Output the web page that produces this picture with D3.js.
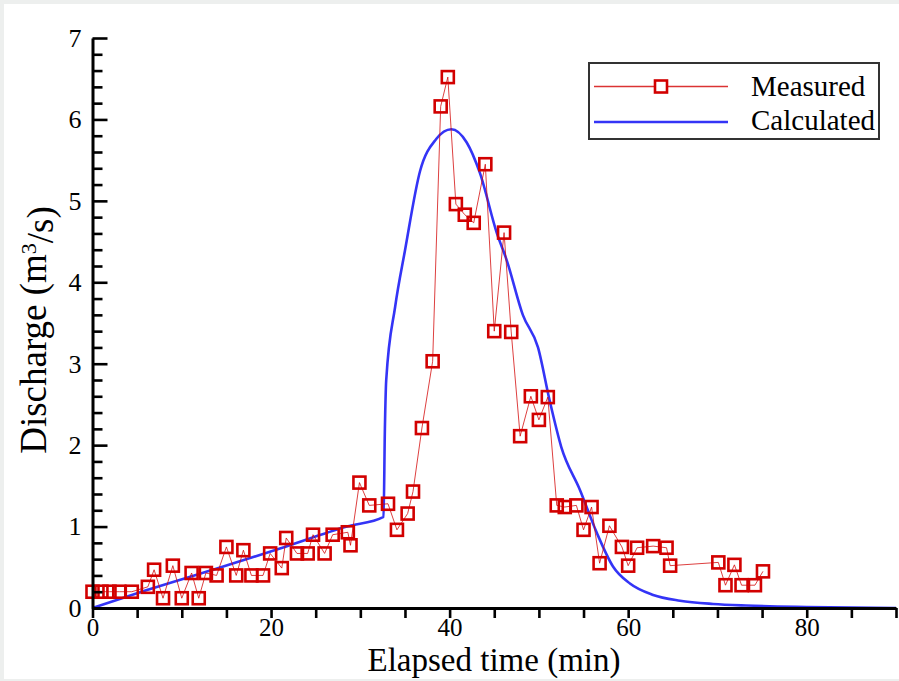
<!DOCTYPE html>
<html>
<head>
<meta charset="utf-8">
<script src="https://cdn.jsdelivr.net/npm/d3@7"></script>
<style>
  html, body { margin: 0; padding: 0; background: #edefee; }
  svg { display: block; }
  text { font-family: "Liberation Serif", "Times New Roman", serif; fill: #000; }
</style>
</head>
<body>
<svg id="chart" width="899" height="681"></svg>
<script>
// Measured discharge (m^3/s) against elapsed time (min)
const measuredTime = [0, 1, 1.9, 3, 4.4, 6.2, 6.9, 7.9, 9.0, 10.0, 11.1, 11.9, 12.7, 13.9, 15.0, 16.1, 16.9, 17.8, 19.1, 19.9,
  21.2, 21.7, 22.9, 24.1, 24.7, 26.0, 26.9, 28.6, 28.9, 29.9, 31.0, 33.1, 34.1, 35.3, 35.9, 36.9, 38.1, 39.0, 39.8, 40.7,
  41.7, 42.7, 44.0, 45.0, 46.1, 46.9, 47.9, 49.1, 50.0, 51.0, 52.0, 52.9, 54.2, 55.0, 55.9, 56.8, 57.9, 59.3, 60.0, 61.0,
  62.8, 64.3, 64.7, 70.1, 70.9, 71.9, 72.7, 74.2, 75.1];
const measuredQ = [0.2, 0.2, 0.2, 0.2, 0.2, 0.26, 0.47, 0.12, 0.52, 0.12, 0.43, 0.12, 0.43, 0.40, 0.75, 0.40, 0.71, 0.40, 0.40, 0.67,
  0.49, 0.86, 0.67, 0.67, 0.90, 0.67, 0.90, 0.93, 0.77, 1.54, 1.26, 1.28, 0.96, 1.16, 1.43, 2.21, 3.03, 6.16, 6.52, 4.96,
  4.83, 4.73, 5.45, 3.40, 4.61, 3.39, 2.11, 2.60, 2.31, 2.59, 1.26, 1.24, 1.26, 0.96, 1.24, 0.55, 1.01, 0.75, 0.52, 0.74,
  0.76, 0.74, 0.52, 0.56, 0.28, 0.53, 0.28, 0.28, 0.45];

// Calculated hydrograph
const calcTime = [0, 6.1, 13.5, 21.0, 28.5, 32.6, 32.75, 32.9, 33.9, 35.0, 36.7, 38.5, 40.2, 41.9, 43.4, 45.3, 46.4, 48.2, 49.9,
  51.2, 52.5, 54.6, 56.5, 58.3, 60.2, 62.8, 65.8, 69.5, 73.2, 80, 90];
const calcQ = [0, 0.22, 0.47, 0.73, 1.0, 1.12, 2.2, 2.8, 3.7, 4.39, 5.37, 5.76, 5.88, 5.72, 5.34, 4.6, 4.27, 3.6, 3.2,
  2.55, 1.98, 1.45, 0.92, 0.51, 0.3, 0.16, 0.09, 0.05, 0.03, 0.012, 0.0];

const xMajorTicks = [0, 20, 40, 60, 80];
const xMinorTicks = [5, 10, 15, 25, 30, 35, 45, 50, 55, 65, 70, 75, 85, 90];
const yMajorTicks = [0, 1, 2, 3, 4, 5, 6, 7];
const yMinorTicks = d3.range(0, 35).map(i => i * 0.2).filter(v => Math.abs(v - Math.round(v)) > 1e-6);

const seriesNames = ["Measured", "Calculated"];
const xTitle = "Elapsed time (min)";

const measured = measuredTime.map((t, i) => ({ t, q: measuredQ[i] }));
const calculated = calcTime.map((t, i) => ({ t, q: calcQ[i] }));

const svg = d3.select("#chart");
const W = 899;

// white page area inside the grey frame
svg.append("rect").attr("x", 4).attr("y", 4).attr("width", W - 4).attr("height", 675).attr("fill", "#fff");

const x = d3.scaleLinear().domain([0, 90]).range([92.5, 896]);
const y = d3.scaleLinear().domain([0, 7]).range([608, 38]);

const red = "#d20000";
const blue = "#3434f6";

// calculated curve
svg.append("path")
  .datum(calculated)
  .attr("fill", "none")
  .attr("stroke", blue)
  .attr("stroke-width", 2.6)
  .attr("d", d3.line().x(d => x(d.t)).y(d => y(d.q)).curve(d3.curveMonotoneX));

// measured connecting line
svg.append("path")
  .datum(measured)
  .attr("fill", "none")
  .attr("stroke", red)
  .attr("stroke-opacity", 0.75)
  .attr("stroke-width", 1)
  .attr("d", d3.line().x(d => x(d.t)).y(d => y(d.q)));

// measured square markers
const S = 12;
svg.append("g").selectAll("rect")
  .data(measured)
  .join("rect")
  .attr("x", d => x(d.t) - S / 2)
  .attr("y", d => y(d.q) - S / 2)
  .attr("width", S).attr("height", S)
  .attr("fill", "none")
  .attr("stroke", red)
  .attr("stroke-width", 2.6);

// y axis: major ticks with labels, pointing into the plot
const yAxisG = svg.append("g").attr("transform", `translate(${x(0)},0)`);
yAxisG.call(d3.axisLeft(y).tickValues(yMajorTicks).tickSizeInner(-15).tickSizeOuter(0).tickPadding(11).tickFormat(d3.format("d")));
// y minor ticks
svg.append("g").attr("transform", `translate(${x(0)},0)`)
  .call(d3.axisLeft(y).tickValues(yMinorTicks).tickSizeInner(-10).tickSizeOuter(0).tickFormat(""))
  .call(g => g.select(".domain").remove());

// x axis: major ticks with labels, pointing down
const xAxisG = svg.append("g").attr("transform", `translate(0,${y(0)})`);
xAxisG.call(d3.axisBottom(x).tickValues(xMajorTicks).tickSizeInner(10).tickSizeOuter(0).tickPadding(0).tickFormat(d3.format("d")));
// x minor ticks
svg.append("g").attr("transform", `translate(0,${y(0)})`)
  .call(d3.axisBottom(x).tickValues(xMinorTicks).tickSizeInner(10).tickSizeOuter(0).tickFormat(""))
  .call(g => g.select(".domain").remove());

svg.selectAll(".domain").style("stroke", "#000").style("stroke-width", "3px");
svg.selectAll(".tick line").style("stroke", "#000").style("stroke-width", "2.6px");
svg.selectAll(".tick text").style("font-family", "'Liberation Serif', serif").style("font-size", "25px").attr("fill", "#000");
yAxisG.selectAll(".tick text").style("font-size", "26px");

// axis titles
svg.append("text")
  .attr("x", 494).attr("y", 671)
  .attr("text-anchor", "middle")
  .style("font-size", "33px")
  .text(xTitle);

const yt = svg.append("text")
  .attr("transform", "translate(46,330) rotate(-90)")
  .attr("text-anchor", "middle")
  .style("font-size", "37px");
yt.append("tspan").text("Discharge (m");
yt.append("tspan").attr("dy", "-0.45em").style("font-size", "22px").text("3");
yt.append("tspan").attr("dy", "0.45em").text("/s)");

// legend
const lg = svg.append("g");
lg.append("rect").attr("x", 589).attr("y", 63).attr("width", 290).attr("height", 76)
  .attr("fill", "#fff").attr("stroke", "#333").attr("stroke-width", 2);
lg.append("line").attr("x1", 594).attr("x2", 728).attr("y1", 86.5).attr("y2", 86.5)
  .attr("stroke", red).attr("stroke-width", 1.3).attr("stroke-opacity", 0.8);
lg.append("rect").attr("x", 661 - S / 2).attr("y", 86.5 - S / 2).attr("width", S).attr("height", S)
  .attr("fill", "#fff").attr("stroke", red).attr("stroke-width", 2.6);
lg.append("line").attr("x1", 594).attr("x2", 728).attr("y1", 122).attr("y2", 122)
  .attr("stroke", blue).attr("stroke-width", 2.6);
lg.selectAll("text.lab").data(seriesNames).join("text")
  .attr("class", "lab")
  .attr("x", 751).attr("y", (d, i) => 96 + i * 34)
  .style("font-size", "29px")
  .text(d => d);
</script>
</body>
</html>
